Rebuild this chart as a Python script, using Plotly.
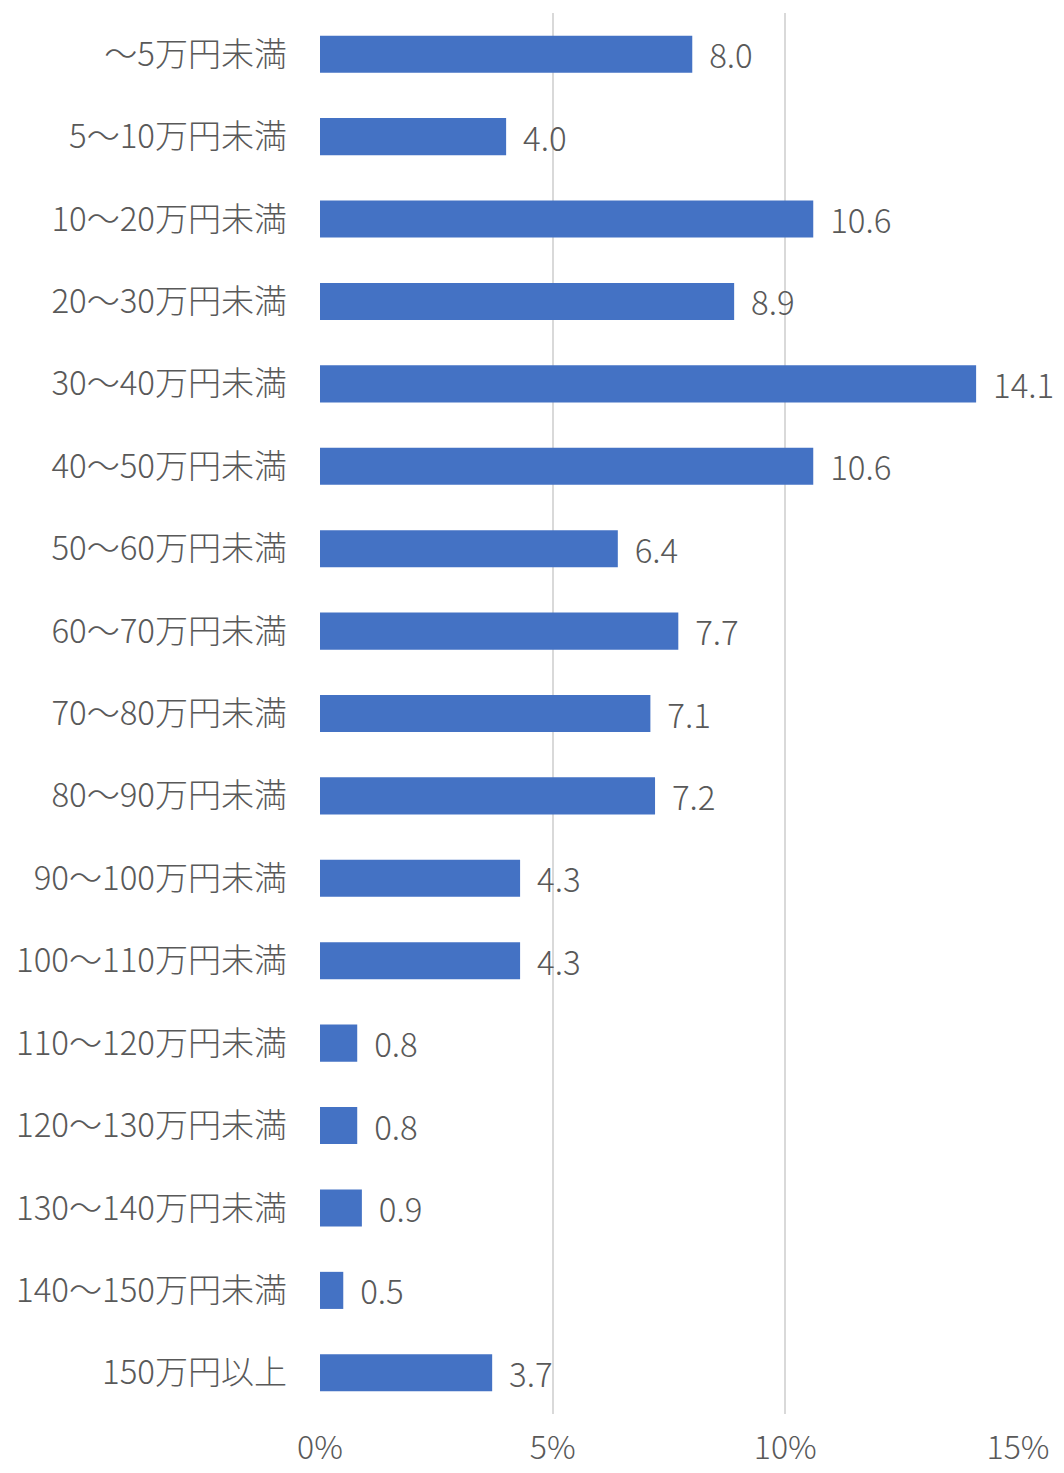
import plotly.graph_objects as go

categories = ["～5万円未満", "5～10万円未満", "10～20万円未満", "20～30万円未満", "30～40万円未満",
              "40～50万円未満", "50～60万円未満", "60～70万円未満", "70～80万円未満", "80～90万円未満",
              "90～100万円未満", "100～110万円未満", "110～120万円未満", "120～130万円未満",
              "130～140万円未満", "140～150万円未満", "150万円以上"]
values = [8.0, 4.0, 10.6, 8.9, 14.1, 10.6, 6.4, 7.7, 7.1, 7.2, 4.3, 4.3, 0.8, 0.8, 0.9, 0.5, 3.7]
tick_vals = [0, 5, 10, 15]
tick_text = ["0%", "5%", "10%", "15%"]

font_family = "Noto Sans CJK JP"
grey = "#595959"
fsize = 33

fig = go.Figure(go.Bar(
    x=values, y=categories, orientation="h",
    marker=dict(color="#4472C4", line=dict(width=0)),
    width=0.45,
    text=["\u00a0\u2009" + f"{v:.1f}" for v in values],
    textposition="outside",
    constraintext="none",
    textfont=dict(family=font_family, size=fsize, color=grey, weight=300),
    cliponaxis=False,
))

# page has an 8px body margin; figure is sized so plot area lands where the reference has it
fig.update_layout(
    width=1056, height=1465,
    margin=dict(l=312, r=46, t=5, b=59, autoexpand=False),
    plot_bgcolor="white", paper_bgcolor="white",
    showlegend=False,
    font=dict(family=font_family, size=fsize, color=grey, weight=300),
    xaxis=dict(range=[0, 15], tickvals=tick_vals, ticktext=tick_text,
               showgrid=True, gridcolor="#d9d9d9", gridwidth=1.5,
               zeroline=False, showline=False, ticks="", automargin=False,
               tickfont=dict(family=font_family, size=32, color=grey, weight=300),
               ticklabelstandoff=12),
    yaxis=dict(autorange="reversed", showgrid=False, zeroline=False, showline=False,
               ticks="", ticklabelstandoff=32, automargin=False,
               tickfont=dict(family=font_family, size=fsize, color=grey, weight=300)),
)

fig.write_html("out.html")
